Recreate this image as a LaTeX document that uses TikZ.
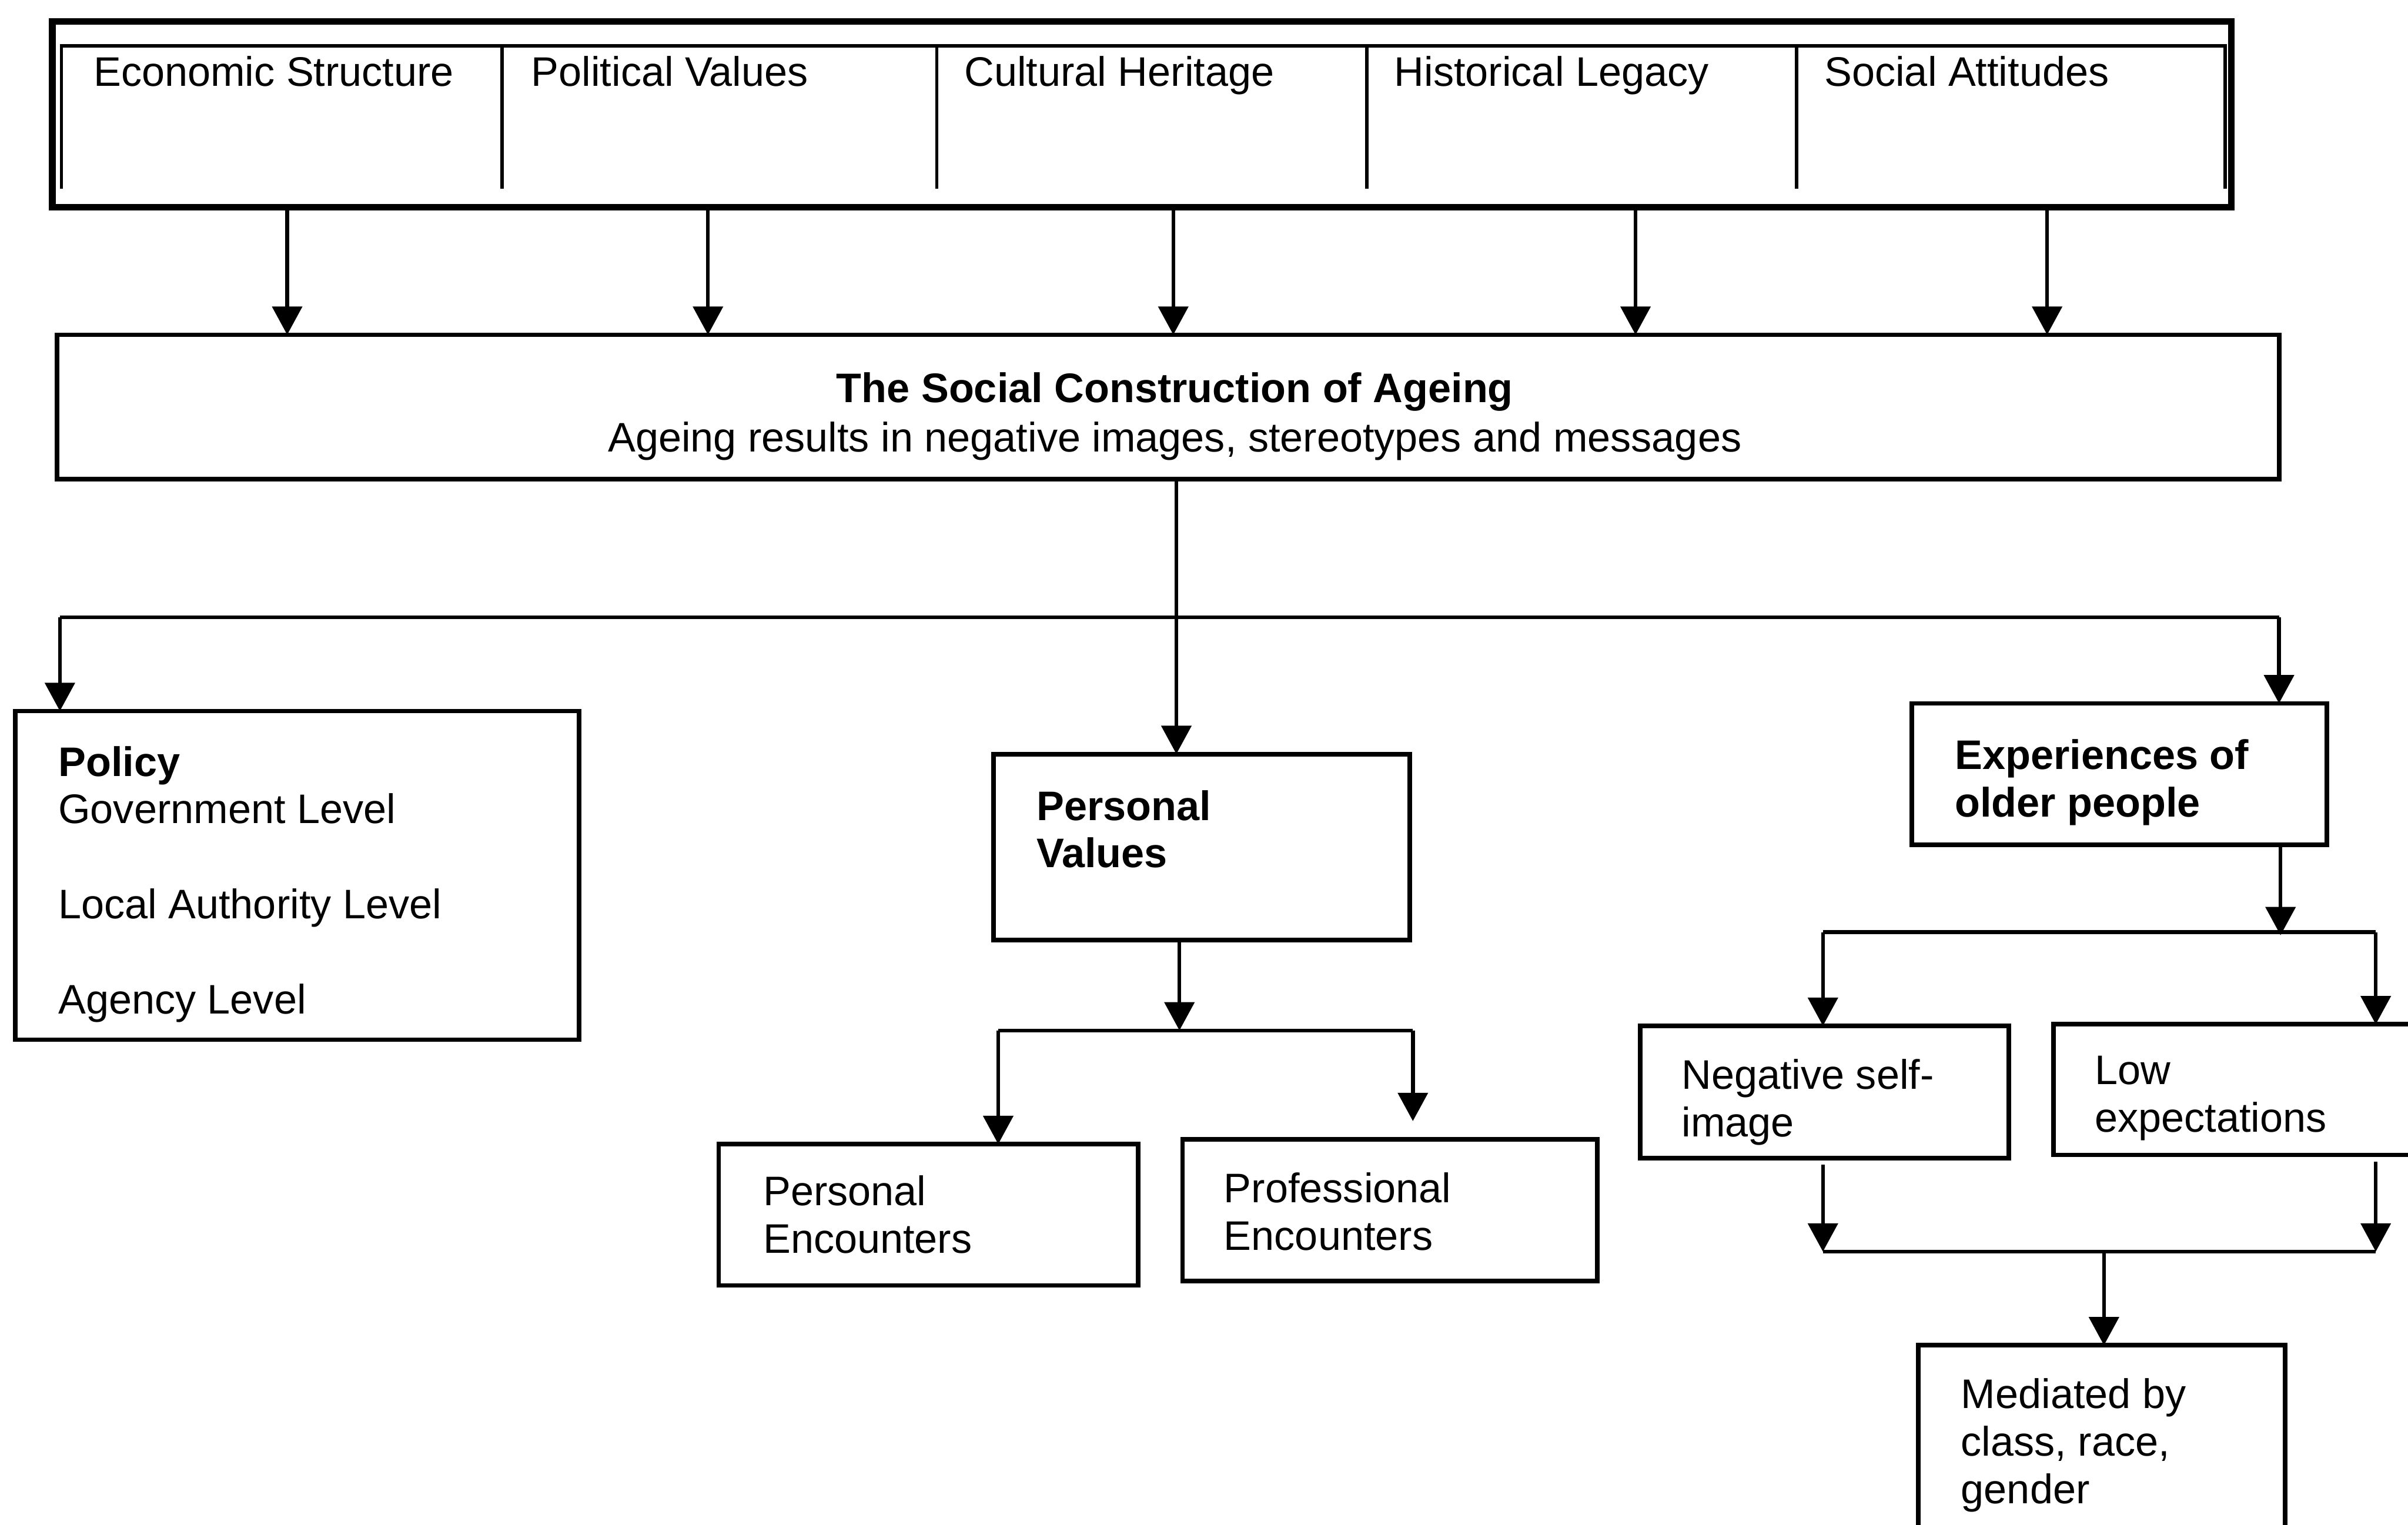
\documentclass[tikz,border=0pt]{standalone}
\usepackage{fontspec}
\setmainfont{Liberation Sans}
\usetikzlibrary{arrows.meta,fit}
\begin{document}
\begin{tikzpicture}[x=0.02cm,y=-0.02cm,
  box/.style={draw, line width=1.7pt, inner sep=0pt, outer sep=0pt, rectangle},
  txt/.style={inner sep=0pt, outer sep=0pt, align=left, anchor=base west, font=\fontsize{15.3}{17.6}\selectfont},
  ln/.style={line width=1.4pt},
  arr/.style={line width=1.4pt, -{Triangle[length=10.5pt,width=11pt]}}]
\useasboundingbox (0,0) rectangle (1568,993);

% top box
\node[box, line width=2.5pt, fit={(34,14) (1453,135)}] (top) {};
\draw[line width=1.3pt] (40,123) -- (40,30) -- (1449,30) -- (1449,123);
\foreach \xx in {327,610,890,1170} \draw[line width=1.3pt] (\xx,30) -- (\xx,123);
\node[txt] (t1) at (61,56) {Economic Structure};
\node[txt] (t2) at (346,56) {Political Values};
\node[txt] (t3) at (628,56) {Cultural Heritage};
\node[txt] (t4) at (908,56) {Historical Legacy};
\node[txt] (t5) at (1188,56) {Social Attitudes};

% social construction (anchor = baseline of last line)
\node[box, fit={(37,218) (1484,312)}] (soc) {};
\node[txt, align=center, anchor=base, font=\fontsize{15.3}{18.2}\selectfont] (socT) at (765,294) {\textbf{The Social Construction of Ageing}\\Ageing results in negative images, stereotypes and messages};

% policy
\node[box, fit={(10,463) (377,677)}] (pol) {};
\node[txt] (polT) at (38,660) {\textbf{Policy}\\Government Level\\[17.6pt]Local Authority Level\\[17.6pt]Agency Level};

% personal values
\node[box, fit={(647,491) (918,612)}] (pv) {};
\node[txt] (pvT) at (675,565) {\textbf{Personal}\\\textbf{Values}};

\node[box, fit={(468,745) (741,837)}] (pe) {};
\node[txt] (peT) at (497,816) {Personal\\Encounters};
\node[box, fit={(770,742) (1040,834)}] (prof) {};
\node[txt] (profT) at (797,814) {Professional\\Encounters};

% experiences
\node[box, fit={(1245,458) (1515,550)}] (exp) {};
\node[txt] (expT) at (1273,532) {\textbf{Experiences of}\\\textbf{older people}};
\node[box, fit={(1068,668) (1308,754)}] (nsi) {};
\node[txt] (nsiT) at (1095,740) {Negative self-\\image};
\node[box, fit={(1337,667) (1600,752)}] (low) {};
\node[txt] (lowT) at (1364,737) {Low\\expectations};
\node[box, fit={(1249,876) (1488,1020)}] (med) {};
\node[txt] (medT) at (1277,979) {Mediated by\\class, race,\\gender};

% connectors top
\coordinate (c1) at (187,0);
\coordinate (c2) at (461,0);
\coordinate (c3) at (764,0);
\coordinate (c4) at (1065,0);
\coordinate (c5) at (1333,0);
\foreach \c in {c1,c2,c3,c4,c5} \draw[arr] (top.south -| \c) -- (soc.north -| \c);

% main distribution
\coordinate (m) at (766,0);
\draw[arr] (soc.south -| m) -- (pv.north -| m);
\coordinate (hl) at (39,402);
\coordinate (hr) at (1484,402);
\draw[ln] (hl) -- (hr);
\draw[arr] (hl) -- (pol.north -| hl);
\draw[arr] (hr) -- (exp.north -| hr);

% personal values branch
\coordinate (pj) at (768,671);
\coordinate (pl) at (650,671);
\coordinate (pr) at (920,671);
\coordinate (prend) at (920,730);
\draw[arr] (pv.south -| pj) -- (pj);
\draw[ln] (pl) -- (pr);
\draw[arr] (pl) -- (pe.north -| pl);
\draw[arr] (pr) -- (prend);

% experiences branch
\coordinate (ej) at (1485,609);
\coordinate (el) at (1187,607);
\coordinate (er) at (1547,607);
\draw[arr] (exp.south -| ej) -- (ej);
\draw[ln] (el) -- (er);
\draw[arr] (el) -- (nsi.north -| el);
\draw[arr] (er) -- (low.north -| er);

\coordinate (bl) at (1187,815);
\coordinate (br) at (1547,815);
\coordinate (bm) at (1370,815);
\draw[arr, shorten <=2.5pt] (nsi.south -| bl) -- (bl);
\draw[arr, shorten <=2.5pt] (low.south -| br) -- (br);
\draw[ln] (bl) -- (br);
\draw[arr] (bm) -- (med.north -| bm);
\end{tikzpicture}
\end{document}
